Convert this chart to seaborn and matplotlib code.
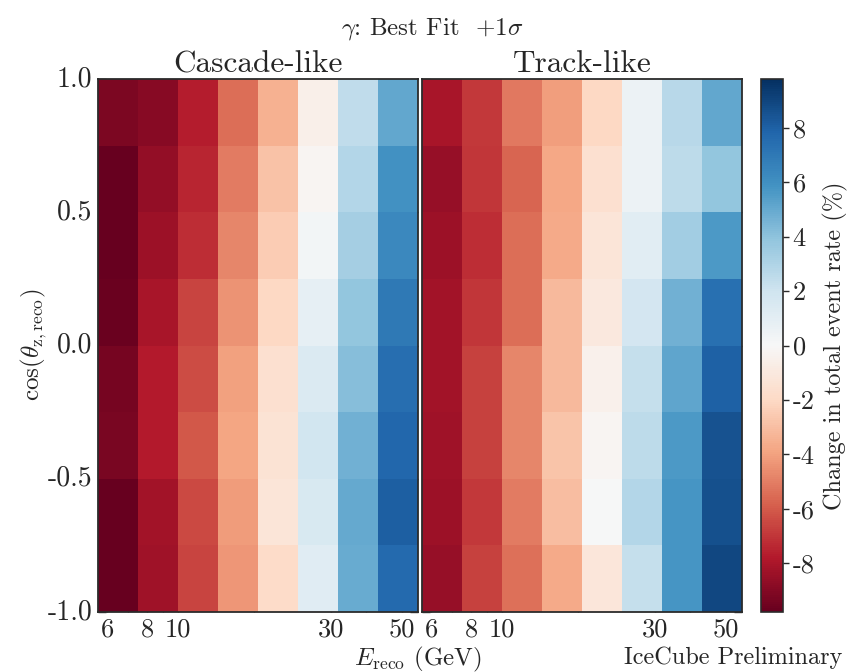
import numpy as np
import pandas as pd
import matplotlib
matplotlib.use("Agg")
import matplotlib.pyplot as plt
import seaborn as sns

# Reconstructed-energy binning: 8 equal log bins, edges in log10(E / GeV)
log_e_edges = [0.75, 0.875, 1.0, 1.125, 1.25, 1.375, 1.5, 1.625, 1.75]
# cos(zenith) bin edges, from the top row down
coszen_edges = [1.0, 0.75, 0.5, 0.25, 0.0, -0.25, -0.5, -0.75, -1.0]

# Change in total event rate (%) for gamma at best fit +1 sigma
# rows: cos(zenith) bins from top (1.0) to bottom (-1.0)
# cols: energy bins from low to high
cascade_like = [
    [-9.2, -8.9, -7.7, -5.5, -3.5, -0.6, 2.5, 5.1],
    [-9.8, -8.6, -7.5, -5.1, -2.9, -0.2, 2.9, 5.9],
    [-9.8, -8.4, -7.2, -4.8, -2.5, 0.3, 3.3, 6.3],
    [-9.7, -8.1, -6.6, -4.4, -2.0, 0.9, 3.9, 7.0],
    [-9.4, -7.8, -6.4, -4.0, -1.6, 1.4, 4.2, 7.5],
    [-9.3, -7.8, -6.1, -3.9, -1.4, 1.9, 4.7, 7.8],
    [-9.8, -8.2, -6.5, -4.2, -1.3, 1.6, 5.0, 8.1],
    [-9.8, -8.3, -6.6, -4.3, -1.9, 1.2, 4.9, 7.6],
]
track_like = [
    [-8.1, -6.9, -5.2, -4.1, -2.0, 0.6, 2.7, 5.1],
    [-8.5, -7.0, -5.7, -3.8, -1.6, 0.6, 2.6, 3.9],
    [-8.4, -7.2, -5.5, -3.7, -1.3, 1.1, 3.4, 5.6],
    [-8.2, -7.0, -5.5, -3.2, -1.0, 1.8, 4.7, 7.4],
    [-8.2, -6.7, -4.8, -3.2, -0.5, 2.3, 5.2, 8.0],
    [-8.3, -6.7, -4.8, -2.8, -0.2, 2.6, 5.6, 8.5],
    [-8.4, -6.9, -5.1, -3.0, 0.0, 2.9, 5.8, 8.6],
    [-8.5, -6.7, -5.4, -3.7, -1.2, 2.3, 5.8, 8.9],
]

panel_titles = ["Cascade-like", "Track-like"]
energy_major = [6, 8, 10, 30, 50]
energy_major_labels = ["6", "8", "10", "30", "50"]
energy_minor = [7, 9, 17.3, 38.6]
coszen_ticks = [1.0, 0.5, 0.0, -0.5, -1.0]
coszen_labels = ["1.0", "0.5", "0.0", "-0.5", "-1.0"]
cbar_ticks = [-8, -6, -4, -2, 0, 2, 4, 6, 8]
cbar_labels = ["-8", "-6", "-4", "-2", "0", "2", "4", "6", "8"]
vlim = 9.8

sns.set_style("white")
plt.rcParams["font.family"] = ["cmr10", "DejaVu Serif"]
plt.rcParams["mathtext.fontset"] = "cm"
plt.rcParams["axes.unicode_minus"] = False

W, H = 862, 672
fig = plt.figure(figsize=(W / 100, H / 100), dpi=100)


def box(x0, y0, x1, y1):
    return [x0 / W, 1 - y1 / H, (x1 - x0) / W, (y1 - y0) / H]


ax_c = fig.add_axes(box(98, 79, 418, 612))
ax_t = fig.add_axes(box(422, 79, 742, 612))
cax = fig.add_axes(box(761, 79, 783, 612))

e_centers = [f"{10 ** ((a + b) / 2):.1f}" for a, b in zip(log_e_edges[:-1], log_e_edges[1:])]
z_centers = [f"{(a + b) / 2:.3f}" for a, b in zip(coszen_edges[:-1], coszen_edges[1:])]

edge_col = "#2b2b2b"
n_e = len(log_e_edges) - 1
dlog = (log_e_edges[-1] - log_e_edges[0]) / n_e
dz = (coszen_edges[0] - coszen_edges[-1]) / (len(coszen_edges) - 1)


def e_pos(vals):
    return [(np.log10(v) - log_e_edges[0]) / dlog for v in vals]


def z_pos(vals):
    return [(coszen_edges[0] - v) / dz for v in vals]


for i, (ax, vals, title) in enumerate(zip([ax_c, ax_t], [cascade_like, track_like], panel_titles)):
    df = pd.DataFrame(vals, index=z_centers, columns=e_centers)
    sns.heatmap(df, ax=ax, cmap="RdBu", vmin=-vlim, vmax=vlim,
                cbar=(i == 1), cbar_ax=cax if i == 1 else None)
    for sp in ax.spines.values():
        sp.set_visible(True)
        sp.set_color(edge_col)
        sp.set_linewidth(1.3)
    ax.set_xlabel("")
    ax.set_ylabel("")
    ax.set_xticks(e_pos(energy_major))
    ax.set_xticklabels(energy_major_labels, rotation=0)
    ax.set_xticks(e_pos(energy_minor), minor=True)
    ax.set_yticks(z_pos(coszen_ticks))
    if i == 0:
        ax.set_yticklabels(coszen_labels, rotation=0)
    else:
        ax.set_yticklabels([])
    ax.tick_params(axis="both", which="both", direction="in", color=edge_col,
                   top=True, bottom=True, left=True, right=True)
    ax.tick_params(axis="both", which="major", length=6, width=1.0)
    ax.tick_params(axis="x", which="major", pad=4, labelsize=19)
    ax.tick_params(axis="y", which="major", pad=4, labelsize=20)
    ax.tick_params(axis="x", which="minor", length=3, width=0.9)
    ax.set_title(title, fontsize=22.5, pad=5)

cb = ax_t.collections[0].colorbar
cb.outline.set_visible(True)
cb.outline.set_linewidth(1.2)
cb.outline.set_edgecolor(edge_col)
cb.set_ticks(cbar_ticks)
cb.set_ticklabels(cbar_labels)
cax.tick_params(direction="out", length=4, width=1.0, color=edge_col, labelsize=19, pad=3)
cb.set_label("Change in total event rate (%)", fontsize=17.5, labelpad=6)

fig.text(432 / W, 1 - 29 / H, r"$\gamma$: Best Fit  $+1\sigma$", ha="center", va="center", fontsize=18)
fig.text(34 / W, 1 - 345 / H, r"$\cos(\theta_{\rm z,reco})$", ha="center", va="center",
         rotation=90, fontsize=18)
fig.text(418 / W, 1 - 659 / H, r"$E_{\rm reco}$ (GeV)", ha="center", va="center", fontsize=18)
fig.text(733 / W, 1 - 658 / H, "IceCube Preliminary", ha="center", va="center", fontsize=17.5)

fig.savefig("out.png", dpi=100)
